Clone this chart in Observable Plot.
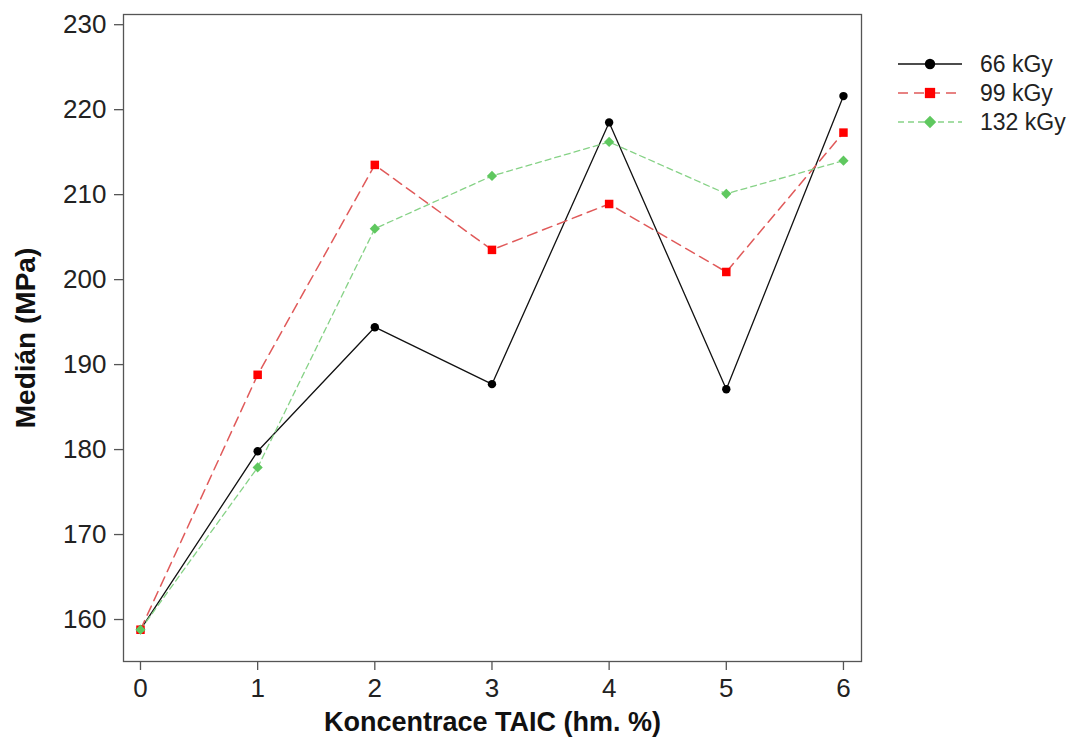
<!DOCTYPE html>
<html>
<head>
<meta charset="utf-8">
<script src="https://cdn.jsdelivr.net/npm/d3@7"></script>
<script src="https://cdn.jsdelivr.net/npm/@observablehq/plot@0.6"></script>
<style>
  html, body { margin: 0; padding: 0; background: #fff; }
  #wrap { position: relative; width: 1068px; height: 738px; font-family: Arial, "Liberation Sans", sans-serif; }
  #legend { position: absolute; left: 0; top: 0; pointer-events: none; }
</style>
</head>
<body>
<div id="wrap"></div>
<script>
// ---- data ----
const concentrations = [0, 1, 2, 3, 4, 5, 6];
const seriesNames = ["66 kGy", "99 kGy", "132 kGy"];
const values66 = [158.8, 179.8, 194.4, 187.7, 218.5, 187.1, 221.6];
const values99 = [158.8, 188.8, 213.5, 203.5, 208.9, 200.9, 217.3];
const values132 = [158.8, 177.9, 206.0, 212.2, 216.2, 210.1, 214.0];
const yTicks = [160, 170, 180, 190, 200, 210, 220, 230];
const xTicks = [0, 1, 2, 3, 4, 5, 6];
const xTitle = "Koncentrace TAIC (hm. %)";
const yTitle = "Medián (MPa)";

// ---- styles per series ----
const styles = {
  "66 kGy":  {line: "#111", dash: null, width: 1.3, marker: "#000", symbol: "circle", r: 4.2},
  "99 kGy":  {line: "#e05a5a", dash: "10,6", width: 1.5, marker: "#ff0000", symbol: "square", r: 4.8},
  "132 kGy": {line: "#86d286", dash: "6,4", width: 1.3, marker: "#5fc85f", symbol: "diamond2", r: 4.6}
};

const seriesValues = [values66, values99, values132];
const table = [];
seriesNames.forEach((name, i) => {
  concentrations.forEach((c, j) => table.push({series: name, x: c, y: seriesValues[i][j]}));
});

const marks = [];
seriesNames.forEach(name => {
  const s = styles[name];
  const data = table.filter(d => d.series === name);
  marks.push(Plot.line(data, {x: "x", y: "y", stroke: s.line, strokeWidth: s.width, strokeDasharray: s.dash}));
});
seriesNames.forEach(name => {
  const s = styles[name];
  const data = table.filter(d => d.series === name);
  marks.push(Plot.dot(data, {x: "x", y: "y", symbol: () => s.symbol, fill: s.marker, stroke: "none", r: s.r}));
});

const chart = Plot.plot({
  width: 1068,
  height: 738,
  marginLeft: 123,
  marginRight: 207,
  marginTop: 14,
  marginBottom: 77,
  style: {fontFamily: 'Arial, "Liberation Sans", sans-serif', background: "#fff", color: "#222"},
  x: {domain: [-0.145, 6.154]},
  y: {domain: [155.06, 231.2]},
  symbol: {type: "identity"},
  marks: [
    Plot.frame({stroke: "#555", strokeWidth: 1.3}),
    Plot.axisY(yTicks, {tickSize: 9, tickPadding: 8, fontSize: 26, stroke: "#555", strokeWidth: 1.3, label: null, fill: "#222", tickFormat: d3.format("d")}),
    Plot.axisX(xTicks, {tickSize: 9, tickPadding: 8, fontSize: 26, stroke: "#555", strokeWidth: 1.3, label: null, fill: "#222", tickFormat: d3.format("d")}),
    Plot.text([xTitle], {frameAnchor: "bottom", lineAnchor: "middle", dy: 61, fontSize: 27, fontWeight: "bold", fill: "#111"}),
    Plot.text([yTitle], {frameAnchor: "left", lineAnchor: "middle", textAnchor: "middle", rotate: -90, dx: -97, dy: 0, fontSize: 28, fontWeight: "bold", fill: "#111"}),
    ...marks
  ]
});

const wrap = document.getElementById("wrap");
wrap.appendChild(chart);

// ---- legend ----
const ns = "http://www.w3.org/2000/svg";
const leg = document.createElementNS(ns, "svg");
leg.setAttribute("id", "legend");
leg.setAttribute("width", 1068);
leg.setAttribute("height", 738);
const legY = [64, 93, 122];
const symbolGen = {circle: d3.symbolCircle, square: d3.symbolSquare, diamond2: d3.symbolDiamond2};
seriesNames.forEach((name, i) => {
  const s = styles[name];
  const y = legY[i];
  const ln = document.createElementNS(ns, "line");
  ln.setAttribute("x1", 898); ln.setAttribute("x2", 962);
  ln.setAttribute("y1", y); ln.setAttribute("y2", y);
  ln.setAttribute("stroke", s.line);
  ln.setAttribute("stroke-width", s.width);
  if (s.dash) ln.setAttribute("stroke-dasharray", s.dash);
  leg.appendChild(ln);
  const p = document.createElementNS(ns, "path");
  const size = Math.PI * (s.r + 1) * (s.r + 1);
  p.setAttribute("d", d3.symbol(symbolGen[s.symbol], size)());
  p.setAttribute("transform", `translate(930,${y})`);
  p.setAttribute("fill", s.marker);
  leg.appendChild(p);
  const t = document.createElementNS(ns, "text");
  t.setAttribute("x", 980);
  t.setAttribute("y", y);
  t.setAttribute("dy", "0.35em");
  t.setAttribute("font-size", 23);
  t.setAttribute("font-family", 'Arial, "Liberation Sans", sans-serif');
  t.setAttribute("fill", "#222");
  t.textContent = name;
  leg.appendChild(t);
});
wrap.appendChild(leg);
</script>
</body>
</html>
